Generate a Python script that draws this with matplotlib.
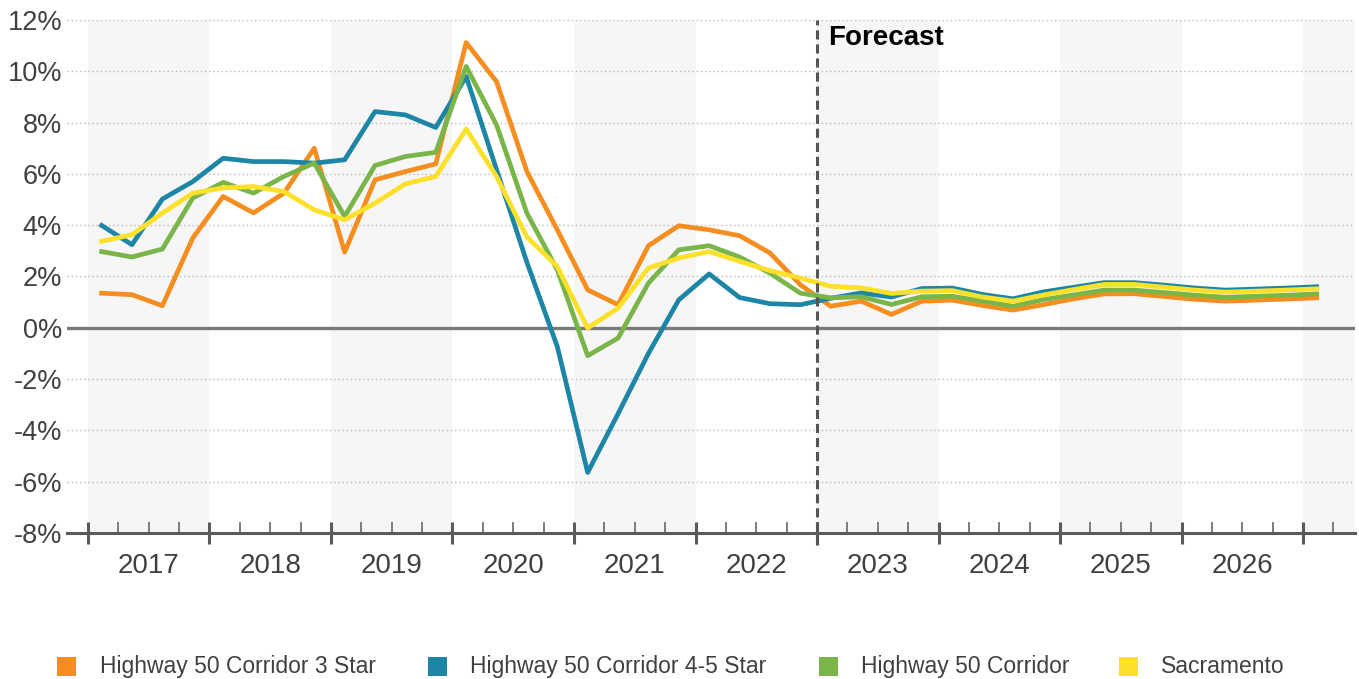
import matplotlib
matplotlib.use("Agg")
import matplotlib.pyplot as plt
from matplotlib.patches import Rectangle

plt.rcParams['font.family'] = ['Liberation Sans', 'DejaVu Sans']

# quarterly rent growth, 2017Q1 .. 2027Q1 (%)
years = ['2017', '2018', '2019', '2020', '2021', '2022', '2023', '2024', '2025', '2026']
forecast_start = 24  # quarter index where 2023 begins

star3 = [1.35, 1.29, 0.86, 3.50, 5.12, 4.48, 5.25, 7.00, 2.95, 5.77, 6.09, 6.39,
         11.12, 9.60, 6.09, 3.82, 1.48, 0.90, 3.20, 3.98, 3.82, 3.59, 2.92, 1.68,
         0.84, 1.04, 0.52, 1.04, 1.08, 0.87, 0.69, 0.90, 1.13, 1.32, 1.33, 1.22,
         1.11, 1.04, 1.08, 1.12, 1.17]
star45 = [3.99, 3.24, 5.02, 5.70, 6.61, 6.48, 6.48, 6.42, 6.55, 8.43, 8.30, 7.81,
          9.80, 6.17, 2.55, -0.73, -5.64, -3.35, -1.00, 1.09, 2.10, 1.18, 0.94, 0.90,
          1.15, 1.36, 1.20, 1.53, 1.55, 1.30, 1.13, 1.40, 1.58, 1.76, 1.76, 1.66,
          1.55, 1.47, 1.51, 1.55, 1.60]
corridor = [2.97, 2.76, 3.07, 5.06, 5.67, 5.25, 5.90, 6.42, 4.34, 6.33, 6.68, 6.84,
            10.19, 7.91, 4.47, 2.26, -1.09, -0.40, 1.74, 3.04, 3.20, 2.76, 2.13, 1.35,
            1.17, 1.21, 0.91, 1.21, 1.23, 1.04, 0.84, 1.10, 1.28, 1.47, 1.47, 1.37,
            1.27, 1.19, 1.23, 1.27, 1.32]
sacramento = [3.37, 3.63, 4.47, 5.25, 5.45, 5.51, 5.31, 4.60, 4.21, 4.86, 5.61, 5.90,
              7.75, 5.90, 3.54, 2.39, -0.01, 0.77, 2.33, 2.72, 2.97, 2.59, 2.23, 1.94,
              1.62, 1.56, 1.34, 1.43, 1.45, 1.20, 1.04, 1.28, 1.49, 1.69, 1.69, 1.58,
              1.47, 1.39, 1.43, 1.47, 1.52]

names = ['Highway 50 Corridor 3 Star', 'Highway 50 Corridor 4-5 Star',
         'Highway 50 Corridor', 'Sacramento']
colors = ['#F68D1F', '#1D86A6', '#7AB54A', '#FDE02A']
series = [star3, star45, corridor, sacramento]

W, H = 1359, 679
fig = plt.figure(figsize=(W / 100, H / 100), dpi=100)
ax = fig.add_axes([67 / W, (H - 533) / H, (1355 - 67) / W, (533 - 20) / H])

x = [i + 0.45 for i in range(len(star3))]
ax.set_xlim(-0.69, 41.71)
ax.set_ylim(-8, 12)

# alternating year bands
for start in range(0, 44, 8):
    ax.axvspan(start, start + 4, color='#f6f6f6', lw=0, zorder=0)

for v in range(-6, 13, 2):
    if v != 0:
        ax.axhline(v, color='#b8b8b8', lw=1, ls=(0, (1, 2)), zorder=1)
ax.axhline(0, color='#7a7a7a', lw=2.4, zorder=2)

for vals, c in zip(series, colors):
    ax.plot(x, vals, color=c, lw=3.4, zorder=3)

ax.axvline(forecast_start, ymin=-0.024, ymax=1, color='#555555', lw=2.2,
           dashes=(3, 1.6), clip_on=False, zorder=4)
ax.text(forecast_start + 0.36, 11.03, 'Forecast', fontsize=20, fontweight='bold',
        color='black', va='baseline', ha='left')

for s in ['top', 'right', 'left']:
    ax.spines[s].set_visible(False)
ax.spines['bottom'].set_color('#5a5a5a')
ax.spines['bottom'].set_linewidth(2.2)

ax.set_yticks(range(-8, 13, 2))
ax.set_yticklabels([f'{v}%' for v in range(-8, 13, 2)])
ax.tick_params(axis='y', length=0, pad=3.6, labelsize=19.5, labelcolor='#404040')

ax.set_xticks(range(0, 41, 4))
ax.set_xticklabels([])
minor = [t for t in range(1, 42) if t % 4]
ax.set_xticks(minor, minor=True)
ax.set_xticklabels([years[t // 4] if t % 4 == 2 and t // 4 < len(years) else ''
                    for t in minor], minor=True)
ax.tick_params(axis='x', which='major', direction='inout', length=16.5, width=2.2,
               color='#5a5a5a')
ax.tick_params(axis='x', which='minor', direction='in', length=8, width=1.1,
               color='#5a5a5a', pad=14.2, labelsize=20, labelcolor='#404040')

# legend along the bottom
sq_x = [57, 428, 819, 1119]
txt_x = [100, 470, 861, 1161]
for name, c, sx, tx in zip(names, colors, sq_x, txt_x):
    fig.add_artist(Rectangle((sx / W, (H - 675.5) / H), 19 / W, 19 / H,
                             transform=fig.transFigure, color=c, lw=0))
    fig.text(tx / W, (H - 673.3) / H, name, fontsize=16.5, color='#404040',
             va='baseline', ha='left')

fig.savefig('out.png', dpi=100)
